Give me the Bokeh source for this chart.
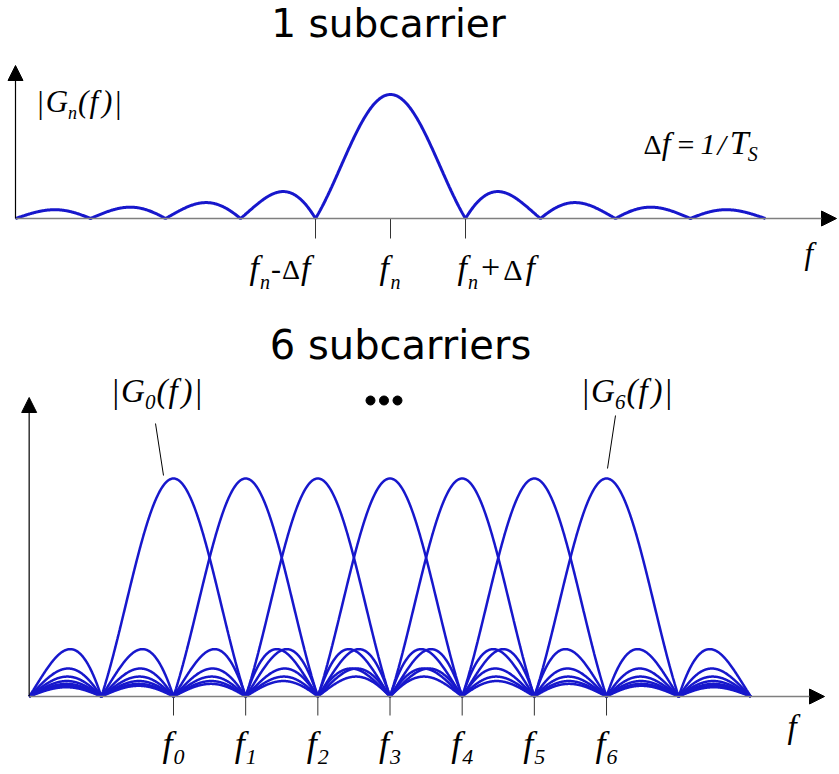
import numpy as np
from bokeh.plotting import figure
from bokeh.models import Range1d, Arrow, NormalHead
from bokeh.layouts import column
from bokeh.embed import file_html
from bokeh.resources import INLINE
from bokeh.core.properties import value

# ---------------- data ----------------
delta_f = 1.0                        # subcarrier spacing (1/Ts)
single_center = 0.0                  # f_n
single_span = [-5.0, 5.0]            # plotted band of |G_n(f)|, in units of delta_f
single_ticks = [-1.0, 0.0, 1.0]      # f_n - df, f_n, f_n + df
multi_centers = [0, 1, 2, 3, 4, 5, 6]            # f_0 ... f_6
multi_span = [-2.0, 8.0]
multi_ticks = [0, 1, 2, 3, 4, 5, 6]
multi_tick_subs = ["0", "1", "2", "3", "4", "5", "6"]

BLUE = "#1717cc"
AXIS_GRAY = "#7f7f7f"
SERIF = "Liberation Serif"
SANS = "DejaVu Sans"
BASE_SHIFT = 0.45   # empirical correction of the svg text baseline (em)

ADV = {("f", "i"): 0.278, ("G", "i"): 0.722, ("n", "i"): 0.5, ("(", "i"): 0.333,
       (")", "i"): 0.333, ("T", "i"): 0.556, ("S", "i"): 0.5, ("1", "i"): 0.5,
       ("/", "i"): 0.278, ("|", "n"): 0.2, ("Δ", "n"): 0.612, ("=", "n"): 0.564,
       ("+", "n"): 0.564, ("-", "n"): 0.333}
for d in "0123456":
    ADV[(d, "i")] = 0.5


def base_fig(w, h, xr, yr):
    return figure(width=w, height=h, x_range=Range1d(*xr), y_range=Range1d(*yr),
                  x_axis_type=None, y_axis_type=None, toolbar_location=None,
                  output_backend="svg", min_border=0, outline_line_color=None,
                  background_fill_color="white", border_fill_color="white")


def put(p, cx, cy, px, base, s, size, style="italic", font=SERIF, align="left"):
    p.text(x=[cx(px)], y=[cy(base - BASE_SHIFT * size)], text=[s], text_font=value(font),
           text_font_size=f"{size}px", text_font_style=style,
           text_align=align, text_baseline="alphabetic", text_color="black")


def run(p, cx, cy, x0, base, pieces):
    x = x0
    for txt, size, st, dy, gap in pieces:
        put(p, cx, cy, x, base + dy, txt, size, style="italic" if st == "i" else "normal")
        x += sum(ADV[(ch, st)] for ch in txt) * size + gap


# ================= top panel: 1 subcarrier =================
W = 839
H1 = 316
T_X0, T_SX, T_Y0, T_SY = 390.0, 75.0, 218.0, 124.0
tx = lambda px: (px - T_X0) / T_SX
ty = lambda py: (T_Y0 - py) / T_SY

p1 = base_fig(W, H1, (tx(0), tx(W)), (ty(H1), ty(0)))

f1 = np.linspace(single_span[0], single_span[1], 1201)
g1 = np.abs(np.sinc((f1 - single_center) / delta_f))
p1.line(f1, g1, line_color=BLUE, line_width=3)

p1.add_layout(Arrow(end=NormalHead(size=15, fill_color="black", line_color="black"),
                    x_start=single_span[0], y_start=0, x_end=tx(836), y_end=0,
                    line_color=AXIS_GRAY, line_width=1.5))
p1.add_layout(Arrow(end=NormalHead(size=15, fill_color="black", line_color="black"),
                    x_start=single_span[0], y_start=0, x_end=single_span[0], y_end=ty(65),
                    line_color="black", line_width=1.2))
p1.segment(x0=single_ticks, y0=[0] * 3, x1=single_ticks, y1=[ty(238)] * 3,
           line_color="#333333", line_width=1)

put(p1, tx, ty, 388, 41, "1 subcarrier", 39, style="normal", font=SANS, align="center")

run(p1, tx, ty, 37, 115, [("|", 31, "n", 1, 2), ("G", 31, "i", 0, 0), ("n", 18, "i", 6, 1),
                          ("(", 31, "i", 0, 1), ("f", 31, "i", 0, 4), (")", 31, "i", 0, 3),
                          ("|", 31, "n", 1, 0)])
run(p1, tx, ty, 643, 157, [("Δ", 28, "n", 0, 1), ("f", 32, "i", 0, 7), ("=", 30, "n", 0, 6),
                           ("1", 30, "i", 0, 2), ("/", 30, "i", 0, 4), ("T", 34, "i", 0, -1),
                           ("S", 20, "i", 5, 0)])

tk = [T_X0 + T_SX * t for t in single_ticks]
run(p1, tx, ty, tk[0] - 66, 282, [("f", 34, "i", 0, 1), ("n", 20, "i", 8, 1), ("-", 30, "n", 0, 1),
                                  ("Δ", 28, "n", 0, 2), ("f", 34, "i", 0, 0)])
run(p1, tx, ty, tk[1] - 11, 282, [("f", 34, "i", 0, 1.5), ("n", 20, "i", 8, 0)])
run(p1, tx, ty, tk[2] - 8, 282, [("f", 34, "i", 0, 1), ("n", 20, "i", 8, 3), ("+", 34, "n", 0, 3),
                                 ("Δ", 30, "n", 0, 4), ("f", 34, "i", 0, 0)])
put(p1, tx, ty, 804, 267, "f", 31)

# ================= bottom panel: 6 subcarriers =================
H2 = 456
TOP2 = H1
B_X0, B_SX, B_Y0, B_SY = 173.0, 72.17, 696.0, 218.0
bx = lambda px: (px - B_X0) / B_SX
by = lambda py: (B_Y0 - py) / B_SY

p2 = base_fig(W, H2, (bx(0), bx(W)), (by(TOP2 + H2), by(TOP2)))

f2 = np.linspace(multi_span[0], multi_span[1], 2001)
for c in multi_centers:
    g = np.abs(np.sinc((f2 - c) / delta_f))
    p2.line(f2, g, line_color=BLUE, line_width=2.5)

p2.add_layout(Arrow(end=NormalHead(size=15, fill_color="black", line_color="black"),
                    x_start=multi_span[0], y_start=0, x_end=bx(824), y_end=0,
                    line_color=AXIS_GRAY, line_width=1.5))
p2.add_layout(Arrow(end=NormalHead(size=15, fill_color="black", line_color="black"),
                    x_start=multi_span[0], y_start=0, x_end=multi_span[0], y_end=by(397),
                    line_color="black", line_width=1.2))
p2.segment(x0=multi_ticks, y0=[0] * 7, x1=multi_ticks, y1=[by(715)] * 7,
           line_color="#333333", line_width=1)

put(p2, bx, by, 400, 362, "6 subcarriers", 40, style="normal", font=SANS, align="center")

for left, sub in ((112, "0"), (582, "6")):
    run(p2, bx, by, left, 405, [("|", 33, "n", 1, 2), ("G", 33, "i", 0, 0), (sub, 21, "i", 6, 1),
                                ("(", 33, "i", 0, 1), ("f", 33, "i", 0, 4), (")", 33, "i", 0, 3),
                                ("|", 33, "n", 1, 0)])

p2.segment(x0=[bx(155), bx(615)], y0=[by(423), by(415)],
           x1=[bx(163), bx(607)], y1=[by(475), by(468)],
           line_color="black", line_width=1)

p2.scatter(x=[bx(370), bx(383.5), bx(397)], y=[by(400)] * 3, size=9,
           fill_color="black", line_color="black")

for t, s in zip(multi_ticks, multi_tick_subs):
    px = B_X0 + B_SX * t
    run(p2, bx, by, px - 11, 760, [("f", 36, "i", 0, 1), (s, 22, "i", 6, 0)])

put(p2, bx, by, 787, 741, "f", 33)

layout = column(p1, p2, spacing=0)
open("out.html", "w").write(file_html(layout, INLINE))
